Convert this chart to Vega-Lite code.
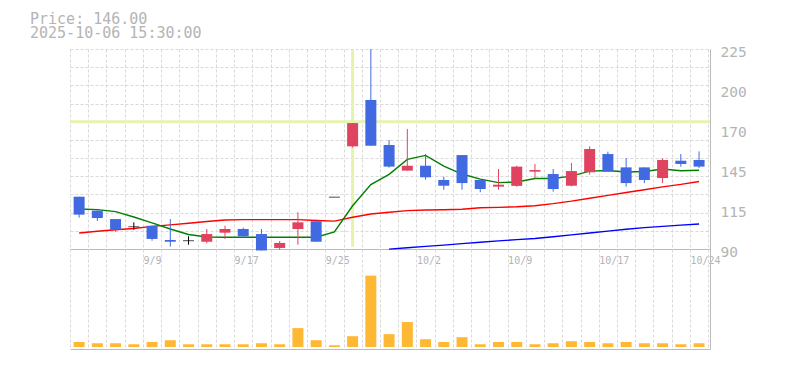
{
  "$schema": "https://vega.github.io/schema/vega-lite/v6.json",
  "autosize": {"type": "pad"},
  "padding": {"left": 30, "top": 11, "right": 5, "bottom": 5},
  "background": "white",
  "title": {
    "text": ["Price: 146.00", "2025-10-06 15:30:00"],
    "anchor": "start",
    "frame": "group",
    "font": "DejaVu Sans Mono",
    "fontSize": 15,
    "fontWeight": "normal",
    "color": "#b4b4b4",
    "lineHeight": 14.5,
    "dx": -40,
    "offset": 3
  },
  "data": {"values": [
    {"i":0,"date":"9/3","open":125.3,"high":125.3,"low":111.1,"close":113.2,"vol":50,"ma5":117.0,"ma25":100.8},
    {"i":1,"date":"9/4","open":115.9,"high":115.9,"low":108.9,"close":110.9,"vol":37,"ma5":116.6,"ma25":102.0},
    {"i":2,"date":"9/5","open":110.2,"high":110.2,"low":101.7,"close":103.0,"vol":37,"ma5":115.2,"ma25":103.0},
    {"i":3,"date":"9/8","open":105.0,"high":108.0,"low":103.0,"close":105.0,"vol":27,"ma5":111.6,"ma25":103.8},
    {"i":4,"date":"9/9","open":105.7,"high":105.7,"low":95.6,"close":96.8,"vol":50,"ma5":107.6,"ma25":105.3},
    {"i":5,"date":"9/10","open":96.1,"high":110.2,"low":91.6,"close":94.9,"vol":67,"ma5":103.5,"ma25":106.3},
    {"i":6,"date":"9/11","open":95.6,"high":98.6,"low":92.9,"close":95.6,"vol":27,"ma5":99.8,"ma25":107.4},
    {"i":7,"date":"9/12","open":94.9,"high":103.5,"low":93.8,"close":100.1,"vol":27,"ma5":98.1,"ma25":108.6},
    {"i":8,"date":"9/16","open":101.0,"high":105.7,"low":96.8,"close":103.5,"vol":27,"ma5":97.9,"ma25":109.6},
    {"i":9,"date":"9/17","open":103.5,"high":104.4,"low":97.4,"close":98.6,"vol":27,"ma5":97.9,"ma25":109.8},
    {"i":10,"date":"9/18","open":100.1,"high":103.5,"low":89.0,"close":89.0,"vol":37,"ma5":97.9,"ma25":109.8},
    {"i":11,"date":"9/19","open":90.7,"high":95.4,"low":89.5,"close":94.1,"vol":27,"ma5":97.9,"ma25":109.8},
    {"i":12,"date":"9/22","open":103.5,"high":114.8,"low":92.9,"close":108.0,"vol":187,"ma5":97.9,"ma25":109.8},
    {"i":13,"date":"9/24","open":108.7,"high":109.8,"low":94.9,"close":94.9,"vol":67,"ma5":97.9,"ma25":109.2},
    {"i":14,"date":"9/25","open":125.0,"high":125.0,"low":125.0,"close":125.0,"vol":17,"ma5":101.5,"ma25":108.8},
    {"i":15,"date":"9/26","open":159.3,"high":175.0,"low":158.5,"close":175.0,"vol":107,"ma5":119.2,"ma25":111.4},
    {"i":16,"date":"9/29","open":190.6,"high":225.0,"low":159.7,"close":159.7,"vol":707,"ma5":133.5,"ma25":113.6},
    {"i":17,"date":"9/30","open":160.2,"high":163.6,"low":144.9,"close":145.6,"vol":127,"ma5":140.4,"ma25":114.8,"ma75":89.9},
    {"i":18,"date":"10/1","open":142.9,"high":171.0,"low":142.9,"close":146.2,"vol":247,"ma5":150.5,"ma25":115.9,"ma75":90.8},
    {"i":19,"date":"10/2","open":146.2,"high":154.1,"low":136.8,"close":138.4,"vol":77,"ma5":153.2,"ma25":116.3,"ma75":91.8},
    {"i":20,"date":"10/3","open":136.6,"high":138.8,"low":130.0,"close":132.7,"vol":50,"ma5":146.0,"ma25":116.5,"ma75":92.6},
    {"i":21,"date":"10/6","open":153.4,"high":153.4,"low":130.0,"close":134.5,"vol":97,"ma5":140.6,"ma25":116.8,"ma75":93.6},
    {"i":22,"date":"10/7","open":136.6,"high":136.6,"low":128.3,"close":130.5,"vol":27,"ma5":137.2,"ma25":117.8,"ma75":94.6},
    {"i":23,"date":"10/8","open":132.1,"high":144.0,"low":130.0,"close":133.4,"vol":50,"ma5":134.8,"ma25":118.1,"ma75":95.5},
    {"i":24,"date":"10/9","open":132.6,"high":146.2,"low":132.0,"close":145.6,"vol":50,"ma5":135.2,"ma25":118.5,"ma75":96.3},
    {"i":25,"date":"10/10","open":142.2,"high":147.4,"low":137.7,"close":143.3,"vol":27,"ma5":137.6,"ma25":119.2,"ma75":97.1},
    {"i":26,"date":"10/14","open":140.6,"high":144.0,"low":128.7,"close":130.5,"vol":37,"ma5":137.6,"ma25":120.6,"ma75":98.3},
    {"i":27,"date":"10/15","open":132.7,"high":148.0,"low":132.3,"close":142.6,"vol":57,"ma5":139.2,"ma25":122.3,"ma75":99.5},
    {"i":28,"date":"10/16","open":141.8,"high":159.3,"low":140.2,"close":157.5,"vol":50,"ma5":142.6,"ma25":124.3,"ma75":100.8},
    {"i":29,"date":"10/17","open":154.1,"high":155.7,"low":142.2,"close":142.2,"vol":37,"ma5":143.0,"ma25":126.2,"ma75":102.1},
    {"i":30,"date":"10/20","open":145.1,"high":151.4,"low":132.1,"close":134.5,"vol":50,"ma5":142.0,"ma25":128.1,"ma75":103.3},
    {"i":31,"date":"10/21","open":145.1,"high":145.1,"low":134.5,"close":136.6,"vol":37,"ma5":142.3,"ma25":130.0,"ma75":104.4},
    {"i":32,"date":"10/22","open":137.9,"high":151.2,"low":134.5,"close":150.1,"vol":37,"ma5":144.0,"ma25":131.9,"ma75":105.3},
    {"i":33,"date":"10/23","open":149.6,"high":154.1,"low":145.6,"close":147.4,"vol":27,"ma5":142.8,"ma25":133.6,"ma75":106.1},
    {"i":34,"date":"10/24","open":150.1,"high":155.9,"low":144.7,"close":145.6,"vol":37,"ma5":143.2,"ma25":135.6,"ma75":106.9}
  ]},
  "vconcat": [
    {
      "width": 640,
      "height": 200,
      "layer": [
        {
          "data": {"values": [{}]},
          "mark": {"type": "rule", "color": "#e4f3ae", "strokeWidth": 3},
          "encoding": {
            "y": {"datum": 175.9, "type": "quantitative", "scale": {"domain": [90, 225], "nice": false, "zero": false, "padding": 0}, "axis": null}
          }
        },
        {
          "data": {"values": [{}]},
          "mark": {"type": "rule", "color": "#e4f3ae", "strokeWidth": 3},
          "encoding": {
            "x": {"datum": 15, "type": "quantitative", "scale": {"domain": [-0.5, 34.6], "nice": false, "zero": false, "padding": 0}, "axis": null},
            "y": {"datum": 91.5, "type": "quantitative", "scale": {"domain": [90, 225], "nice": false, "zero": false, "padding": 0}, "axis": null},
            "y2": {"datum": 224.5}
          }
        },
        {
          "mark": {"type": "line", "color": "#0000ff", "strokeWidth": 1.4},
          "encoding": {
            "x": {"field": "i", "type": "quantitative", "scale": {"domain": [-0.5, 34.6], "nice": false, "zero": false, "padding": 0}, "axis": null},
            "y": {"field": "ma75", "type": "quantitative", "scale": {"domain": [90, 225], "nice": false, "zero": false, "padding": 0}, "axis": null}
          }
        },
        {
          "mark": {"type": "line", "color": "#ff0000", "strokeWidth": 1.4},
          "encoding": {
            "x": {"field": "i", "type": "quantitative", "scale": {"domain": [-0.5, 34.6], "nice": false, "zero": false, "padding": 0}, "axis": null},
            "y": {"field": "ma25", "type": "quantitative", "scale": {"domain": [90, 225], "nice": false, "zero": false, "padding": 0}, "axis": null}
          }
        },
        {
          "mark": {"type": "line", "color": "#008000", "strokeWidth": 1.4},
          "encoding": {
            "x": {"field": "i", "type": "quantitative", "scale": {"domain": [-0.5, 34.6], "nice": false, "zero": false, "padding": 0}, "axis": null},
            "y": {"field": "ma5", "type": "quantitative", "scale": {"domain": [90, 225], "nice": false, "zero": false, "padding": 0},
              "axis": {"orient": "left", "values": [90, 102.27, 114.55, 126.82, 139.09, 151.36, 163.64, 175.91, 188.18, 200.45, 212.73, 225], "grid": true, "gridColor": "#d9d9d9", "gridDash": [3, 2], "gridWidth": 1, "labels": false, "ticks": false, "domain": false, "title": null}}
          }
        },
        {
          "mark": {"type": "rule", "strokeWidth": 1},
          "encoding": {
            "x": {"field": "i", "type": "quantitative", "scale": {"domain": [-0.5, 34.6], "nice": false, "zero": false, "padding": 0},
              "axis": {"orient": "bottom", "values": [-0.5,0.5,1.5,2.5,3.5,4.5,5.5,6.5,7.5,8.5,9.5,10.5,11.5,12.5,13.5,14.5,15.5,16.5,17.5,18.5,19.5,20.5,21.5,22.5,23.5,24.5,25.5,26.5,27.5,28.5,29.5,30.5,31.5,32.5,33.5,34.5],
                "labelExpr": "datum.value == 3.5 ? '9/9' : datum.value == 8.5 ? '9/17' : datum.value == 13.5 ? '9/25' : datum.value == 18.5 ? '10/2' : datum.value == 23.5 ? '10/9' : datum.value == 28.5 ? '10/17' : datum.value == 33.5 ? '10/24' : ''",
                "labelAlign": "left", "labelPadding": 6, "labelFontSize": 10, "labelFlush": false, "labelOverlap": false,
                "grid": true, "gridColor": "#d9d9d9", "gridDash": [3, 2], "gridWidth": 1, "ticks": false, "domain": true, "domainColor": "#bbbbbb", "domainWidth": 1, "title": null}},
            "y": {"field": "low", "type": "quantitative", "scale": {"domain": [90, 225], "nice": false, "zero": false, "padding": 0},
              "axis": {"orient": "right", "values": [90, 117, 144, 171, 198, 225], "labelExpr": "format(round(datum.value/5)*5, 'd')", "grid": false, "ticks": false, "domain": true, "domainColor": "#bbbbbb", "domainWidth": 1, "labelPadding": 10, "labelFontSize": 14.5, "labelOffset": 3, "labelFlush": false, "labelOverlap": false, "title": null}},
            "y2": {"field": "high"},
            "color": {"condition": [{"test": "datum.close > datum.open", "value": "#e0435f"}, {"test": "datum.close < datum.open", "value": "#4169e1"}], "value": "#000000"}
          }
        },
        {
          "mark": {"type": "bar", "size": 11},
          "encoding": {
            "x": {"field": "i", "type": "quantitative", "scale": {"domain": [-0.5, 34.6], "nice": false, "zero": false, "padding": 0}, "axis": null},
            "y": {"field": "open", "type": "quantitative", "scale": {"domain": [90, 225], "nice": false, "zero": false, "padding": 0}, "axis": null},
            "y2": {"field": "close"},
            "color": {"condition": [{"test": "datum.close > datum.open", "value": "#e0435f"}, {"test": "datum.close < datum.open", "value": "#4169e1"}], "value": "#000000"}
          }
        },
        {
          "transform": [{"filter": "datum.open == datum.close"}],
          "mark": {"type": "tick", "orient": "horizontal", "size": 11, "thickness": 1, "color": "#000000"},
          "encoding": {
            "x": {"field": "i", "type": "quantitative", "scale": {"domain": [-0.5, 34.6], "nice": false, "zero": false, "padding": 0}, "axis": null},
            "y": {"field": "close", "type": "quantitative", "scale": {"domain": [90, 225], "nice": false, "zero": false, "padding": 0}, "axis": null}
          }
        }
      ],
      "resolve": {"axis": {"x": "independent", "y": "independent"}}
    },
    {
      "width": 640,
      "height": 100,
      "mark": {"type": "bar", "size": 11, "color": "#ffb833"},
      "encoding": {
        "x": {"field": "i", "type": "quantitative", "scale": {"domain": [-0.5, 34.6], "nice": false, "zero": false, "padding": 0},
          "axis": {"orient": "bottom", "values": [-0.5,0.5,1.5,2.5,3.5,4.5,5.5,6.5,7.5,8.5,9.5,10.5,11.5,12.5,13.5,14.5,15.5,16.5,17.5,18.5,19.5,20.5,21.5,22.5,23.5,24.5,25.5,26.5,27.5,28.5,29.5,30.5,31.5,32.5,33.5,34.5],
            "grid": true, "gridColor": "#d9d9d9", "gridDash": [3, 2], "gridWidth": 1, "labels": false, "ticks": false, "domain": true, "domainColor": "#bbbbbb", "domainWidth": 1, "title": null}},
        "y": {"field": "vol", "type": "quantitative", "scale": {"domain": [-20, 971], "nice": false, "zero": false, "padding": 0},
          "axis": {"orient": "right", "grid": false, "labels": false, "ticks": false, "domain": true, "domainColor": "#bbbbbb", "domainWidth": 1, "title": null}},
        "y2": {"datum": 0}
      }
    }
  ],
  "spacing": 0,
  "bounds": "flush",
  "config": {
    "view": {"stroke": null},
    "axis": {"labelFont": "DejaVu Sans Mono", "labelColor": "#b4b4b4"}
  }
}
